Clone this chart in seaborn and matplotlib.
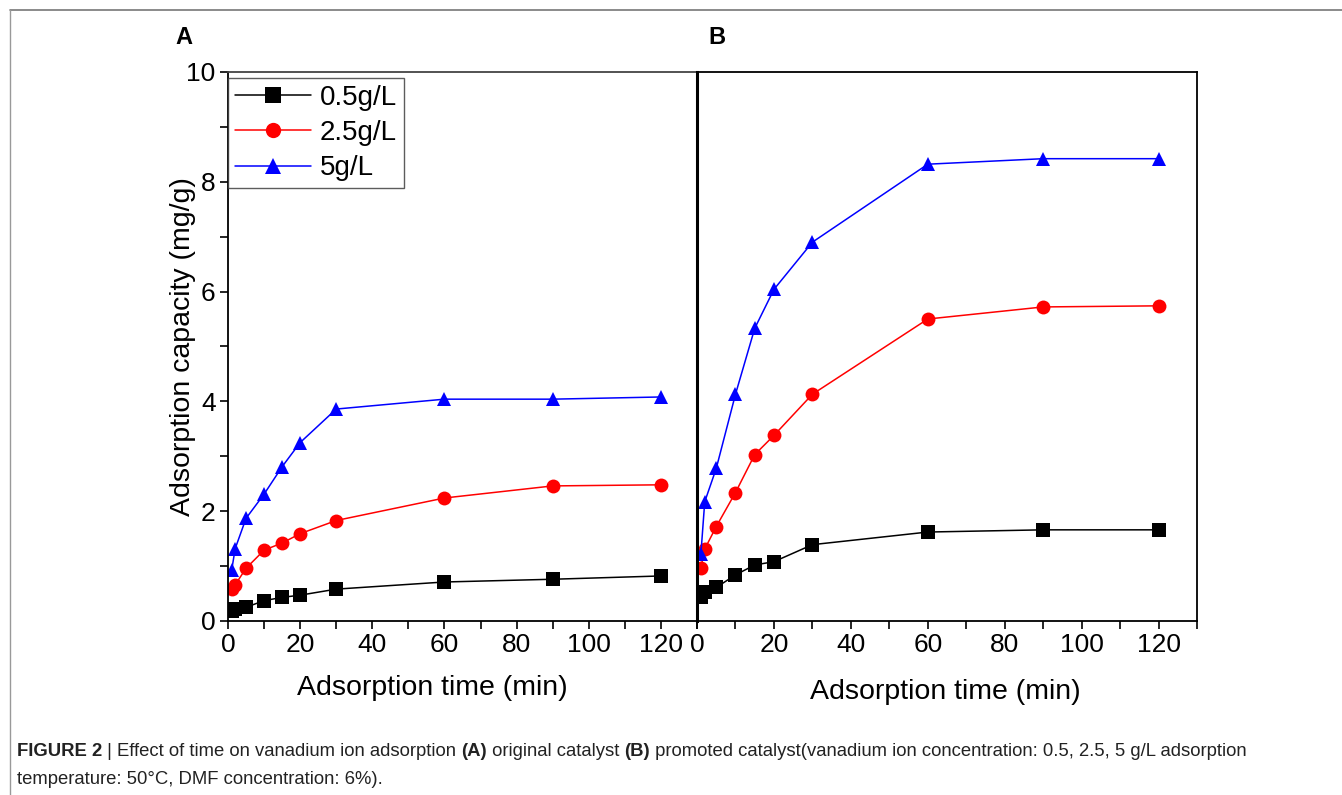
import matplotlib.pyplot as plt
import matplotlib.ticker as mticker
from matplotlib.lines import Line2D
import pandas as pd
import seaborn as sns

sns.set_theme(style="white")
plt.rcParams["font.family"] = ["Liberation Sans", "DejaVu Sans"]
plt.rcParams["text.color"] = "black"
plt.rcParams["axes.labelcolor"] = "black"

times = [1, 2, 5, 10, 15, 20, 30, 60, 90, 120]
labels = ["0.5g/L", "2.5g/L", "5g/L"]

# panel A: original catalyst
a_05 = [0.18, 0.21, 0.25, 0.37, 0.43, 0.47, 0.58, 0.71, 0.76, 0.82]
a_25 = [0.58, 0.66, 0.96, 1.29, 1.42, 1.59, 1.83, 2.24, 2.46, 2.48]
a_5 = [0.92, 1.32, 1.87, 2.31, 2.81, 3.25, 3.86, 4.04, 4.04, 4.08]

# panel B: promoted catalyst
b_05 = [0.44, 0.53, 0.61, 0.84, 1.02, 1.08, 1.39, 1.62, 1.66, 1.66]
b_25 = [0.97, 1.31, 1.72, 2.34, 3.03, 3.38, 4.13, 5.50, 5.72, 5.74]
b_5 = [1.22, 2.17, 2.78, 4.13, 5.33, 6.04, 6.90, 8.32, 8.42, 8.42]

palette = {"0.5g/L": "#000000", "2.5g/L": "#ff0000", "5g/L": "#0000ff"}
markers = {"0.5g/L": "s", "2.5g/L": "o", "5g/L": "^"}


def long_frame(series):
    rows = []
    for lab, vals in zip(labels, series):
        for t, v in zip(times, vals):
            rows.append({"time": t, "cap": v, "conc": lab})
    return pd.DataFrame(rows)


def draw_panel(ax, df, show_y):
    sns.lineplot(data=df, x="time", y="cap", hue="conc", style="conc",
                 palette=palette, markers=markers, dashes=False,
                 markersize=10, markeredgewidth=0, linewidth=1.1,
                 legend=False, ax=ax)
    ax.set_xlim(0, 130)
    ax.set_ylim(0, 10)
    ax.xaxis.set_major_locator(mticker.MultipleLocator(20))
    ax.xaxis.set_minor_locator(mticker.MultipleLocator(10))
    ax.yaxis.set_major_locator(mticker.MultipleLocator(2))
    ax.yaxis.set_minor_locator(mticker.MultipleLocator(1))
    ax.tick_params(axis="both", which="both", direction="out", length=6, width=1.2,
                   colors="black", labelsize=19, bottom=True, left=show_y, pad=3)
    ax.set_xlabel("Adsorption time (min)", fontsize=20.5)
    ax.xaxis.label.set_va("center")
    if show_y:
        ax.set_ylabel("Adsorption capacity (mg/g)", fontsize=20.5)
        ax.yaxis.label.set_va("center")
        ax.yaxis.set_label_coords(-0.097, 0.5)
    else:
        ax.set_ylabel("")
        ax.set_yticklabels([])
        ax.tick_params(axis="y", which="both", left=False)
    for s in ax.spines.values():
        s.set_color("black")
        s.set_linewidth(1.3)


fig = plt.figure(figsize=(13.42, 7.95), dpi=100)
ax_a = fig.add_axes([0.1699, 0.2189, 0.3495, 0.6906])
ax_b = fig.add_axes([0.5194, 0.2189, 0.3726, 0.6906])

draw_panel(ax_a, long_frame([a_05, a_25, a_5]), True)
draw_panel(ax_b, long_frame([b_05, b_25, b_5]), False)
ax_b.spines["left"].set_linewidth(2.2)
ax_a.spines["top"].set_color("#444444")
ax_a.xaxis.set_label_coords(0.435, -0.122)
ax_b.xaxis.set_label_coords(0.496, -0.129)

handles = [Line2D([], [], color=palette[l], marker=markers[l], markersize=11,
                  markeredgewidth=0, linewidth=1.1) for l in labels]
leg = ax_a.legend(handles, labels, loc="upper left", bbox_to_anchor=(0, 1 - 6 / 549),
                  fontsize=20, frameon=True, fancybox=False, handlelength=2.75,
                  borderpad=0.25, labelspacing=0.33, handletextpad=0.3,
                  borderaxespad=0.0)
leg.get_frame().set_edgecolor("#333333")
leg.get_frame().set_linewidth(1.0)

fig.text(175 / 1342, 1 - 37 / 795, "A", fontsize=17, fontweight="bold", va="center", ha="left")
fig.text(708 / 1342, 1 - 37 / 795, "B", fontsize=17, fontweight="bold", va="center", ha="left")

# outer frame lines
fig.add_artist(Line2D([10 / 1342, 1], [1 - 10 / 795, 1 - 10 / 795], color="#777777", linewidth=1.2))
fig.add_artist(Line2D([10 / 1342, 10 / 1342], [1 - 10 / 795, 0], color="#999999", linewidth=1.0))

# caption with mixed weights
fig.canvas.draw()
renderer = fig.canvas.get_renderer()


def caption_line(pieces, x_px, y_px):
    x = x_px
    for txt, bold in pieces:
        t = fig.text(x / 1342, 1 - y_px / 795, txt, fontsize=13.3, color="#222222",
                     fontweight="bold" if bold else "normal", va="center", ha="left")
        x = t.get_window_extent(renderer).x1


caption_line([("FIGURE 2", True), (" | Effect of time on vanadium ion adsorption ", False),
              ("(A)", True), (" original catalyst ", False), ("(B)", True),
              (" promoted catalyst(vanadium ion concentration: 0.5, 2.5, 5 g/L adsorption", False)],
             17, 752)
caption_line([("temperature: 50°C, DMF concentration: 6%).", False)], 17, 779)

fig.savefig("out.png", dpi=100)
